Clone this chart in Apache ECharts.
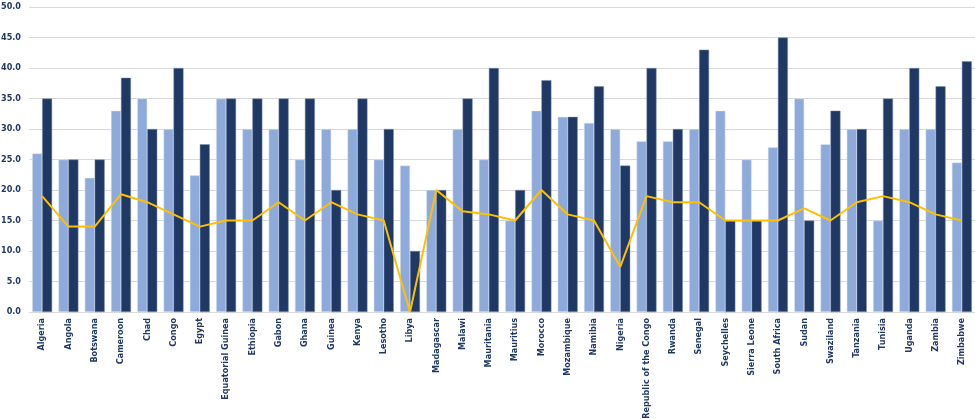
<!DOCTYPE html>
<html>
<head>
<meta charset="utf-8">
<script src="https://cdn.jsdelivr.net/npm/echarts@6/dist/echarts.min.js"></script>
<style>
html,body{margin:0;padding:0;background:#fff;}
#chart{width:975px;height:419px;}
</style>
</head>
<body>
<div id="chart"></div>
<script>
var categories = ["Algeria","Angola","Botswana","Cameroon","Chad","Congo","Egypt","Equatorial Guinea","Ethiopia","Gabon","Ghana","Guinea","Kenya","Lesotho","Libya","Madagascar","Malawi","Mauritania","Mauritius","Morocco","Mozambique","Namibia","Nigeria","Republic of the Congo","Rwanda","Senegal","Seychelles","Sierra Leone","South Africa","Sudan","Swaziland","Tanzania","Tunisia","Uganda","Zambia","Zimbabwe"];
var seriesLight = [26,25,22,33,35,30,22.4,35,30,30,25,30,30,25,24,20,30,25,15,33,32,31,30,28,28,30,33,25,27,35,27.5,30,15,30,30,24.5];
var seriesDark = [35,25,25,38.4,30,40,27.5,35,35,35,35,20,35,30,10,20,35,40,20,38,32,37,24,40,30,43,15,15,45,15,33,30,35,40,37,41.1];
var seriesLine = [19,14,14,19.3,18,16,14,15,15,18,15,18,16,15,0,20,16.5,16,15,20,16,15,7.4,19,18,18,15,15,15,17,15,18,19,18,16,15];
var yTicks = {min:0, max:50, interval:5};

var font = '"Liberation Sans Narrow", "DejaVu Sans Condensed", "Roboto", sans-serif';
var chart = echarts.init(document.getElementById('chart'), null, {renderer:'canvas'});
chart.setOption({
  animation:false,
  backgroundColor:'#ffffff',
  grid:{left:29, right:0, top:7, bottom:107, containLabel:false, outerBoundsMode:'none'},
  xAxis:{
    type:'category',
    data:categories,
    axisLine:{show:true, lineStyle:{color:'#d9d9d9', width:1}},
    axisTick:{show:false},
    axisLabel:{rotate:90, interval:0, color:'#1f3864', fontFamily:font, fontWeight:'bold', fontSize:9, margin:6}
  },
  yAxis:{
    type:'value',
    min:yTicks.min, max:yTicks.max, interval:yTicks.interval,
    axisLine:{show:false},
    axisTick:{show:false},
    splitLine:{lineStyle:{color:'#d9d9d9', width:1}},
    axisLabel:{color:'#1f3864', fontFamily:font, fontWeight:'bold', fontSize:9, margin:8,
      formatter:function(v){return v.toFixed(1);}}
  },
  series:[
    {type:'bar', data:seriesLight, barGap:'0%', barCategoryGap:'24%',
      itemStyle:{color:'#8eaadb', borderColor:'#dfe7f5', borderWidth:0.5}},
    {type:'bar', data:seriesDark,
      itemStyle:{color:'#1f3864', borderColor:'#7f8fb0', borderWidth:0.5}},
    {type:'line', data:seriesLine, symbol:'none', z:5,
      lineStyle:{color:'#ffc000', width:2}}
  ]
});
</script>
</body>
</html>
